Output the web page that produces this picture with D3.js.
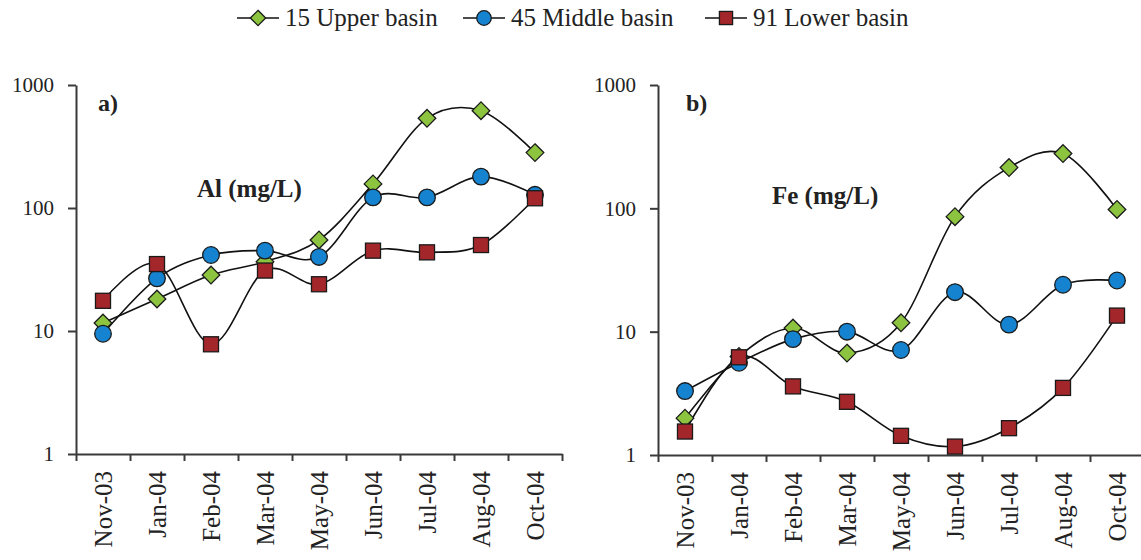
<!DOCTYPE html>
<html>
<head>
<meta charset="utf-8">
<script src="https://cdn.jsdelivr.net/npm/d3@7"></script>
<style>
  html, body { margin: 0; padding: 0; background: #fff; }
  svg { display: block; }
  text { font-family: "Liberation Serif", "Times New Roman", serif; fill: #222; }
</style>
</head>
<body>
<svg id="chart" width="1141" height="560"></svg>
<script>
// ---- Data ----
const categories = ["Nov-03", "Jan-04", "Feb-04", "Mar-04", "May-04", "Jun-04", "Jul-04", "Aug-04", "Oct-04"];
const seriesNames = ["15 Upper basin", "45 Middle basin", "91 Lower basin"];
const yTicks = [1, 10, 100, 1000];

// Panel a) Al (mg/L)
const alUpper  = [11.6, 18.2, 28.5, 36.6, 55, 157, 536, 618, 282];
const alMiddle = [9.5, 26.8, 41.5, 45, 40, 122, 122, 180, 128];
const alLower  = [17.6, 35, 7.8, 31, 24, 45, 43.6, 50, 120];

// Panel b) Fe (mg/L)
const feUpper  = [1.99, 6.3, 10.7, 6.7, 11.8, 85.6, 214, 278, 98];
const feMiddle = [3.3, 5.6, 8.7, 10.0, 7.1, 20.9, 11.4, 24, 26];
const feLower  = [1.55, 6.2, 3.6, 2.7, 1.43, 1.17, 1.65, 3.5, 13.5];

const styles = [
  { shape: "diamond", fill: "#8cc43f" },
  { shape: "circle",  fill: "#1583cf" },
  { shape: "square",  fill: "#a3262a" }
];

const svg = d3.select("#chart");
const axisColor = "#3a3a3a";

function drawMarker(g, shape, fill, cx, cy, s) {
  if (shape === "diamond") {
    const h = s * 0.55;
    g.append("path")
      .attr("d", `M${cx},${cy - h}L${cx + h},${cy}L${cx},${cy + h}L${cx - h},${cy}Z`)
      .attr("fill", fill).attr("stroke", "#1a1a1a").attr("stroke-width", 1.3);
  } else if (shape === "circle") {
    g.append("circle").attr("cx", cx).attr("cy", cy).attr("r", s * 0.52)
      .attr("fill", fill).attr("stroke", "#1a1a1a").attr("stroke-width", 1.3);
  } else {
    const h = s * 0.47;
    g.append("rect").attr("x", cx - h).attr("y", cy - h).attr("width", 2 * h).attr("height", 2 * h)
      .attr("fill", fill).attr("stroke", "#1a1a1a").attr("stroke-width", 1.3);
  }
}

function panel(opts) {
  const { x0, x1, yTop, yBot, data, letter, letterPos, title, titlePos } = opts;
  const g = svg.append("g");
  const x = d3.scaleBand().domain(categories).range([x0, x1]);
  const xEdge = d3.scaleLinear().domain([0, categories.length]).range([x0, x1]);
  const y = d3.scaleLog().domain([1, 1000]).range([yBot, yTop]);
  const cx = c => x(c) + x.bandwidth() / 2;

  // y axis
  const ya = g.append("g").attr("transform", `translate(${x0},0)`)
    .call(d3.axisLeft(y).tickValues(yTicks).tickFormat(d3.format("d")).tickSize(8).tickSizeOuter(0).tickPadding(14));
  ya.select(".domain").attr("stroke", axisColor).attr("stroke-width", 2);
  ya.selectAll(".tick line").attr("stroke", axisColor).attr("stroke-width", 2);
  ya.selectAll(".tick text").style("font-size", "21px").style("font-family", "Liberation Serif, serif").attr("fill", "#222");

  // x axis (ticks at band edges)
  const xa = g.append("g").attr("transform", `translate(0,${yBot})`)
    .call(d3.axisBottom(xEdge).tickValues(d3.range(categories.length + 1)).tickFormat("").tickSize(7).tickSizeOuter(0));
  xa.select(".domain").attr("stroke", axisColor).attr("stroke-width", 2);
  xa.selectAll(".tick line").attr("stroke", axisColor).attr("stroke-width", 2);

  // x labels (rotated)
  g.selectAll(".xl").data(categories).enter().append("text")
    .attr("transform", d => `translate(${cx(d)},${yBot + 17}) rotate(-90)`)
    .attr("text-anchor", "end").attr("dy", "0.35em")
    .style("font-size", "25px").text(d => d);

  // lines
  const line = d3.line().x((d, i) => cx(categories[i])).y(d => y(d)).curve(d3.curveCardinal.tension(0));
  data.forEach(s => {
    g.append("path").attr("d", line(s)).attr("fill", "none").attr("stroke", "#111").attr("stroke-width", 1.6);
  });
  // markers
  data.forEach((s, k) => {
    s.forEach((v, i) => drawMarker(g, styles[k].shape, styles[k].fill, cx(categories[i]), y(v), 16));
  });

  g.append("text").attr("x", letterPos[0]).attr("y", letterPos[1])
    .style("font-size", "24px").style("font-weight", "bold").text(letter);
  g.append("text").attr("x", titlePos[0]).attr("y", titlePos[1])
    .style("font-size", "25px").style("font-weight", "bold").text(title);
}

panel({ x0: 76, x1: 562, yTop: 85, yBot: 454, data: [alUpper, alMiddle, alLower],
        letter: "a)", letterPos: [98, 111], title: "Al (mg/L)", titlePos: [197, 197] });
panel({ x0: 658, x1: 1144, yTop: 85, yBot: 455, data: [feUpper, feMiddle, feLower],
        letter: "b)", letterPos: [686, 111], title: "Fe (mg/L)", titlePos: [772, 204] });

// legend
const legendX = [237, 463, 705];
const lg = svg.append("g");
seriesNames.forEach((name, k) => {
  const lx = legendX[k];
  lg.append("line").attr("x1", lx).attr("x2", lx + 42).attr("y1", 18).attr("y2", 18)
    .attr("stroke", "#111").attr("stroke-width", 1.6);
  drawMarker(lg, styles[k].shape, styles[k].fill, lx + 21, 18, 14);
  lg.append("text").attr("x", lx + 48).attr("y", 26).style("font-size", "25px").text(name);
});
</script>
</body>
</html>
